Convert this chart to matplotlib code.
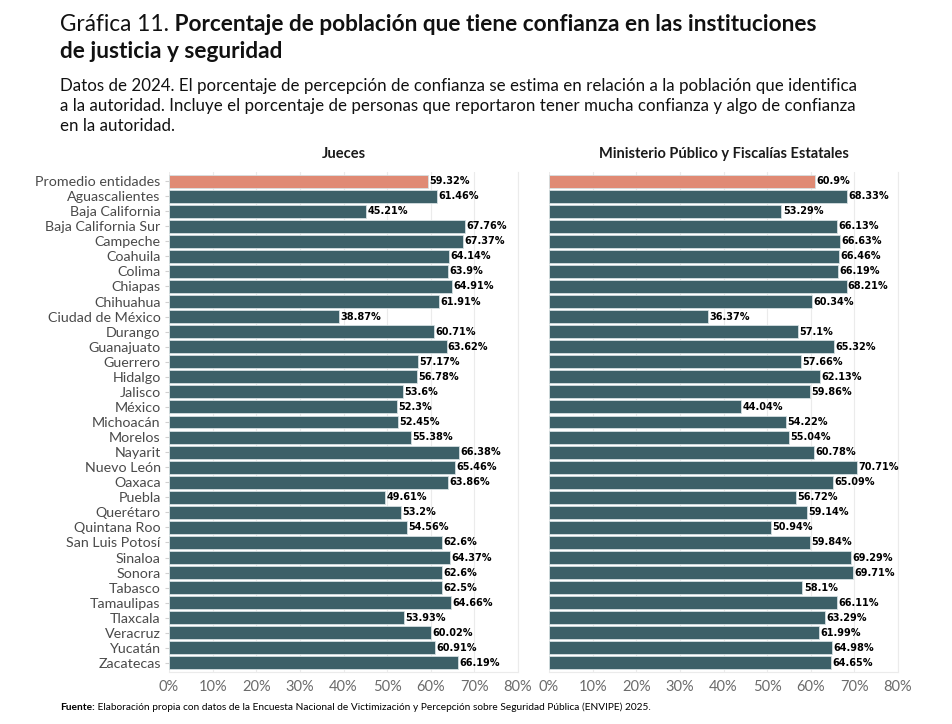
import matplotlib
matplotlib.use("Agg")
import matplotlib.pyplot as plt
from matplotlib.ticker import FuncFormatter

entidades = ["Promedio entidades", "Aguascalientes", "Baja California", "Baja California Sur",
             "Campeche", "Coahuila", "Colima", "Chiapas", "Chihuahua", "Ciudad de México",
             "Durango", "Guanajuato", "Guerrero", "Hidalgo", "Jalisco", "México", "Michoacán",
             "Morelos", "Nayarit", "Nuevo León", "Oaxaca", "Puebla", "Querétaro", "Quintana Roo",
             "San Luis Potosí", "Sinaloa", "Sonora", "Tabasco", "Tamaulipas", "Tlaxcala",
             "Veracruz", "Yucatán", "Zacatecas"]

jueces = [59.32, 61.46, 45.21, 67.76, 67.37, 64.14, 63.9, 64.91, 61.91, 38.87,
          60.71, 63.62, 57.17, 56.78, 53.6, 52.3, 52.45, 55.38, 66.38, 65.46,
          63.86, 49.61, 53.2, 54.56, 62.6, 64.37, 62.6, 62.5, 64.66, 53.93,
          60.02, 60.91, 66.19]

ministerio = [60.9, 68.33, 53.29, 66.13, 66.63, 66.46, 66.19, 68.21, 60.34, 36.37,
              57.1, 65.32, 57.66, 62.13, 59.86, 44.04, 54.22, 55.04, 60.78, 70.71,
              65.09, 56.72, 59.14, 50.94, 59.84, 69.29, 69.71, 58.1, 66.11, 63.29,
              61.99, 64.98, 64.65]

paneles = ["Jueces", "Ministerio Público y Fiscalías Estatales"]

plt.rcParams['font.family'] = ['Lato', 'DejaVu Sans']

fg = plt.figure(figsize=(9.52, 7.24), dpi=100)
fg.patch.set_facecolor('white')
rend = fg.canvas.get_renderer()

dark = '#3c6068'
hl = '#e08a74'

def text_after(prev, s, **kw):
    # put a text right after the previous one on the same baseline
    bb = prev.get_window_extent(renderer=rend)
    x = bb.x1 / fg.bbox.width
    return fg.text(x, prev.get_position()[1], s, **kw)

axl = fg.add_axes([169/952, 1-672/724, 349/952, 500/724])
axr = fg.add_axes([549/952, 1-672/724, 349/952, 500/724])

ypos = list(range(len(entidades)))
for ax, vals, ttl in ((axl, jueces, paneles[0]), (axr, ministerio, paneles[1])):
    cols = [hl] + [dark]*(len(vals)-1)
    ax.barh(ypos, vals, height=0.86, color=cols, edgecolor='#d5e0e2', linewidth=0.6, zorder=2)
    for y, v in zip(ypos, vals):
        ax.text(v + 0.3, y, f'{v:g}%', va='center', ha='left', fontsize=7,
                fontweight='bold', color='black', family=['DejaVu Sans'])
    ax.set_xlim(0, 80)
    ax.set_ylim(len(vals)-0.4, -0.6)
    ax.set_xticks(range(0, 81, 10))
    ax.xaxis.set_major_formatter(FuncFormatter(lambda x, p: f'{x:.0f}%'))
    ax.grid(axis='x', color='#ebebeb', linewidth=0.8, zorder=0)
    for s in ('top', 'left'):
        ax.spines[s].set_visible(False)
    for s in ('right', 'bottom'):
        ax.spines[s].set_color('#ebebeb')
        ax.spines[s].set_linewidth(0.8)
    ax.tick_params(axis='x', length=0, labelsize=10.5, labelcolor='#6b6b6b', pad=6)
    ax.tick_params(axis='y', length=3, color='#d0d0d0', labelsize=10.3, labelcolor='#4a4a4a', pad=3)
    ax.set_title(ttl, fontsize=10.5, fontweight='bold', pad=10, color='#1a1a1a')

axl.set_yticks(ypos)
axl.set_yticklabels(entidades)
axr.set_yticks(ypos)
axr.set_yticklabels([])
axr.tick_params(axis='y', length=0)

# titles
t0 = fg.text(60/952, 1-31/724, 'Gráfica 11.', fontsize=16.3, va='baseline', ha='left', color='#111111')
text_after(t0, ' Porcentaje de población que tiene confianza en las instituciones',
           fontsize=16.3, fontweight='bold', va='baseline', ha='left', color='#111111')
fg.text(60/952, 1-58/724, 'de justicia y seguridad', fontsize=16.3, fontweight='bold',
        va='baseline', ha='left', color='#111111')
sub = ('Datos de 2024. El porcentaje de percepción de confianza se estima en relación a la población que identifica\n'
       'a la autoridad. Incluye el porcentaje de personas que reportaron tener mucha confianza y algo de confianza\n'
       'en la autoridad.')
fg.text(60/952, 1-78/724, sub, fontsize=12.2, va='top', ha='left', color='#111111', linespacing=1.3)

f0 = fg.text(60/952, 1-710/724, 'Fuente:', fontsize=7.3, fontweight='bold', va='baseline', ha='left')
text_after(f0, ' Elaboración propia con datos de la Encuesta Nacional de Victimización y Percepción sobre Seguridad Pública (ENVIPE) 2025.',
           fontsize=7.3, va='baseline', ha='left')

fg.savefig('out.png', dpi=100)
